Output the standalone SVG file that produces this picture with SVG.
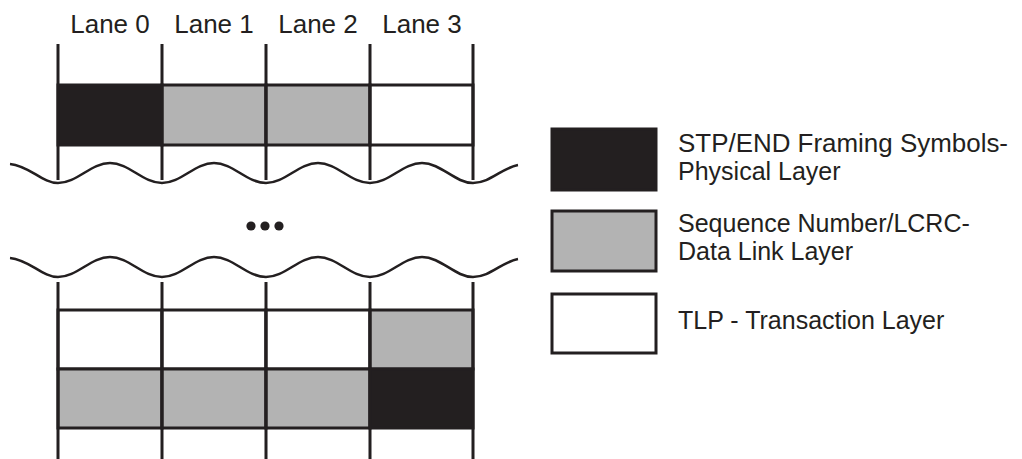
<svg xmlns="http://www.w3.org/2000/svg" width="1022" height="459" viewBox="0 0 1022 459">
<style>
.ln{stroke:#231f20;stroke-width:3;fill:none}
.wave{stroke:#231f20;stroke-width:2.6;fill:none}
.blk{fill:#231f20;stroke:#231f20;stroke-width:3}
.gry{fill:#b3b3b3;stroke:#231f20;stroke-width:3}
.wht{fill:#ffffff;stroke:#231f20;stroke-width:3}
.t{font-family:"Liberation Sans",Arial,sans-serif;font-size:26px;fill:#231f20}
.lg{font-family:"Liberation Sans",Arial,sans-serif;font-size:25px;fill:#231f20}
</style>
<rect width="1022" height="459" fill="#ffffff"/>
<g id="lane-labels">
<text class="t" x="110" y="33" text-anchor="middle">Lane 0</text>
<text class="t" x="214" y="33" text-anchor="middle">Lane 1</text>
<text class="t" x="318" y="33" text-anchor="middle">Lane 2</text>
<text class="t" x="422" y="33" text-anchor="middle">Lane 3</text>
</g>
<g id="top-section">
<rect class="blk" x="58" y="85" width="104" height="60"/>
<rect class="gry" x="162" y="85" width="104" height="60"/>
<rect class="gry" x="266" y="85" width="104" height="60"/>
<rect class="wht" x="370" y="85" width="103" height="60"/>
<path class="ln" d="M58,44V180M162,44V180M266,44V180M370,44V180M473,44V180"/>
<path class="wave" d="M10,164 C30,166 42,183 58,183 C77,183 91,163 110,163 C129,163 143,183 162,183 C181,183 195,163 214,163 C233,163 247,183 266,183 C285,183 299,163 318,163 C337,163 351,183 370,183 C389,183 403,163 422,163 C441,163 455,183 473,183 C490,183 502,168 518,165"/>
</g>
<g id="ellipsis">
<circle cx="251" cy="226" r="4.6" fill="#231f20"/>
<circle cx="265" cy="226" r="4.6" fill="#231f20"/>
<circle cx="279" cy="226" r="4.6" fill="#231f20"/>
</g>
<g id="bottom-section">
<path class="wave" d="M10,258 C30,260 42,277 58,277 C77,277 91,257 110,257 C129,257 143,277 162,277 C181,277 195,257 214,257 C233,257 247,277 266,277 C285,277 299,257 318,257 C337,257 351,277 370,277 C389,277 403,257 422,257 C441,257 455,277 473,277 C490,277 502,262 518,259"/>
<rect class="wht" x="58" y="310" width="104" height="59"/>
<rect class="wht" x="162" y="310" width="104" height="59"/>
<rect class="wht" x="266" y="310" width="104" height="59"/>
<rect class="gry" x="370" y="310" width="103" height="59"/>
<rect class="gry" x="58" y="369" width="104" height="59"/>
<rect class="gry" x="162" y="369" width="104" height="59"/>
<rect class="gry" x="266" y="369" width="104" height="59"/>
<rect class="blk" x="370" y="369" width="103" height="59"/>
<path class="ln" d="M58,282V459M162,282V459M266,282V459M370,282V459M473,282V459"/>
</g>
<g id="legend-physical">
<rect class="blk" x="552" y="129" width="104" height="61"/>
<text class="lg" x="678" y="152" textLength="330" lengthAdjust="spacingAndGlyphs">STP/END Framing Symbols-</text>
<text class="lg" x="678" y="180">Physical Layer</text>
</g>
<g id="legend-datalink">
<rect class="gry" x="552" y="211" width="104" height="60"/>
<text class="lg" x="678" y="232">Sequence Number/LCRC-</text>
<text class="lg" x="678" y="260">Data Link Layer</text>
</g>
<g id="legend-transaction">
<rect class="wht" x="552" y="294" width="104" height="59"/>
<text class="lg" x="678" y="329">TLP - Transaction Layer</text>
</g>
</svg>
